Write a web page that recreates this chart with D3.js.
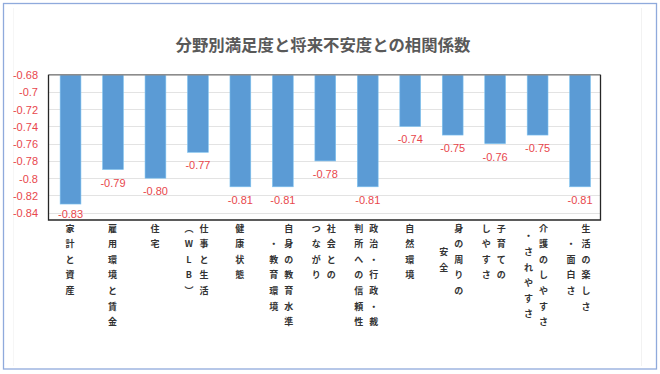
<!DOCTYPE html>
<html><head><meta charset="utf-8">
<script src="https://cdn.jsdelivr.net/npm/d3@7"></script>
<style>
html,body{margin:0;padding:0;background:#fff;}
svg{display:block;}
</style></head>
<body>
<svg id="chart" width="660" height="374"></svg>
<script>
const title = "分野別満足度と将来不安度との相関係数";
const categories = ["家計と資産","雇用環境と賃金","住宅","仕事と生活（WLB）","健康状態","自身の教育水準・教育環境","社会とのつながり","政治・行政・裁判所への信頼性","自然環境","身の周りの安全","子育てのしやすさ","介護のしやすさ・されやすさ","生活の楽しさ・面白さ"];
// label columns as written (right column first, vertical text)
const labelColumns = [
  ["家計と資産"],
  ["雇用環境と賃金"],
  ["住宅"],
  ["仕事と生活","︵WLB︶"],
  ["健康状態"],
  ["自身の教育水準","・教育環境"],
  ["社会との","つながり"],
  ["政治・行政・裁","判所への信頼性"],
  ["自然環境"],
  ["身の周りの","安全"],
  ["子育ての","しやすさ"],
  ["介護のしやすさ","・されやすさ"],
  ["生活の楽しさ","・面白さ"]
];
const values = [-0.83,-0.79,-0.80,-0.77,-0.81,-0.81,-0.78,-0.81,-0.74,-0.75,-0.76,-0.75,-0.81];
const yTicks = [-0.68,-0.70,-0.72,-0.74,-0.76,-0.78,-0.80,-0.82,-0.84];

const svg = d3.select("#chart");
const red = "#e8474c";

// outer frame
svg.append("rect").attr("x",3.5).attr("y",3.5).attr("width",653).attr("height",365.5)
  .attr("fill","#fff").attr("stroke","#8faadc").attr("stroke-width",1.3);
svg.append("line").attr("x1",641.5).attr("x2",641.5).attr("y1",8).attr("y2",366).attr("stroke","#f2f2f2");
svg.append("line").attr("x1",13.5).attr("x2",13.5).attr("y1",8).attr("y2",366).attr("stroke","#f6f6f6");

const L = 48.5, R = 600.5, T = 74.7, B = 220;
const x = d3.scaleBand().domain(d3.range(categories.length)).range([L,R]).paddingInner(0.51).paddingOuter(0.255);
const y = d3.scaleLinear().domain([-0.68,-0.8485]).range([T,B]);

svg.append("text").attr("x",323).attr("y",51).attr("text-anchor","middle")
  .attr("font-family","'Noto Sans CJK JP'").attr("font-weight","bold").attr("font-size",16.4)
  .attr("fill","#595959").text(title);

// gridlines
svg.append("g").selectAll("line").data(yTicks).join("line")
  .attr("x1",L).attr("x2",R).attr("y1",d=>Math.round(y(d))+0.5).attr("y2",d=>Math.round(y(d))+0.5)
  .attr("stroke","#e3e3e3").attr("stroke-width",1);

// y axis labels
const yAxis = d3.axisLeft(y).tickValues(yTicks).tickSize(0).tickPadding(0)
  .tickFormat(d=>{ let s = d3.format(".2f")(d); return s.replace(/0$/,"").replace("−","-"); });
const ga = svg.append("g").attr("transform",`translate(${38},0)`).call(yAxis);
ga.select(".domain").remove();
ga.selectAll("text").attr("fill",red).attr("font-family","'Liberation Sans', Arial").attr("font-size",11).attr("dy","0.35em");

// bars
const bandOffset = 0.8;
svg.append("g").selectAll("rect").data(values).join("rect")
  .attr("x",(d,i)=>x(i)+bandOffset).attr("width",x.bandwidth())
  .attr("y",y(-0.68)).attr("height",d=>y(d)-y(-0.68))
  .attr("fill","#5b9bd5").attr("stroke","#7fc3f0").attr("stroke-width",0.6);

// value labels
svg.append("g").selectAll("text").data(values).join("text")
  .attr("x",(d,i)=>x(i)+bandOffset+x.bandwidth()/2).attr("y",d=>Math.min(y(d)+17, B-2.5))
  .attr("text-anchor","middle").attr("fill",red)
  .attr("font-family","'Liberation Sans', Arial").attr("font-size",11)
  .text(d=>d3.format(".2f")(d).replace("−","-"));

// plot frame
svg.append("line").attr("x1",L).attr("x2",R).attr("y1",T).attr("y2",T).attr("stroke","#8c8c8c").attr("stroke-width",1.6);
svg.append("path").attr("d",`M${L},${T}V${B}H${R}V${T}`).attr("fill","none").attr("stroke","#262626").attr("stroke-width",1.3);

// category labels (vertical, columns right-to-left, centered vertically)
const rowStep = 15.6, firstRow = 231.5, colGap = 15;
const lg = svg.append("g").attr("font-family","'Noto Sans CJK JP'").attr("font-weight","bold")
  .attr("font-size",9).attr("fill","#333");
labelColumns.forEach((cols,i)=>{
  const cx = x(i)+bandOffset+x.bandwidth()/2 - (cols.length>1?1.5:0.5);
  const maxLen = d3.max(cols, c=>Array.from(c).length);
  cols.forEach((col,j)=>{
    const chars = Array.from(col);
    const colX = cx + (cols.length-1)*colGap/2 - j*colGap;
    const off = (maxLen - chars.length)/2*rowStep;
    chars.forEach((ch,k)=>{
      lg.append("text").attr("x",colX).attr("y",firstRow + off + k*rowStep)
        .attr("text-anchor","middle").text(ch);
    });
  });
});
</script>
</body></html>
